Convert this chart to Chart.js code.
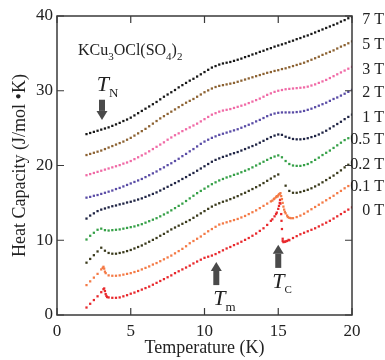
<!DOCTYPE html>
<html>
<head>
<meta charset="utf-8">
<script src="https://cdn.jsdelivr.net/npm/chart.js@4.4.1/dist/chart.umd.min.js"></script>
<style>
  html, body { margin: 0; padding: 0; background: #fff; }
  #wrap { width: 385px; height: 360px; position: relative; }
</style>
</head>
<body>
<div id="wrap"><canvas id="grafico"></canvas></div>
<script>
// temperatura (K), grade comum
const temps = [
  2, 2.25, 2.5, 2.75, 3, 3.25, 3.5, 3.75, 4, 4.25, 4.5, 4.75,
  5, 5.25, 5.5, 5.75, 6, 6.25, 6.5, 6.75, 7, 7.25, 7.5, 7.75,
  8, 8.25, 8.5, 8.75, 9, 9.25, 9.5, 9.75, 10, 10.25, 10.5, 10.75,
  11, 11.25, 11.5, 11.75, 12, 12.25, 12.5, 12.75, 13, 13.25, 13.5, 13.75,
  14, 14.25, 14.5, 14.75, 15, 15.25, 15.5, 15.75, 16, 16.25, 16.5, 16.75,
  17, 17.25, 17.5, 17.75, 18, 18.25, 18.5, 18.75, 19, 19.25, 19.5, 19.75, 20
];

const c7T = [
  24.2, 24.35, 24.5, 24.65, 24.8, 24.95, 25.1, 25.3, 25.5, 25.7, 25.95, 26.15,
  26.4, 26.7, 27.0, 27.3, 27.6, 27.9, 28.2, 28.5, 28.85, 29.2, 29.5, 29.8,
  30.1, 30.45, 30.75, 31.05, 31.35, 31.6, 31.9, 32.2, 32.5, 32.8, 33.1, 33.3,
  33.5, 33.65, 33.75, 33.85, 34.0, 34.15, 34.3, 34.5, 34.65, 34.85, 35.0, 35.2,
  35.35, 35.55, 35.7, 35.9, 36.05, 36.2, 36.35, 36.55, 36.7, 36.9, 37.05, 37.25,
  37.4, 37.6, 37.8, 38.0, 38.2, 38.4, 38.6, 38.8, 39.0, 39.25, 39.45, 39.7, 39.9
];
const c5T = [
  21.4, 21.55, 21.7, 21.85, 22.0, 22.2, 22.4, 22.6, 22.8, 23.0, 23.2, 23.45,
  23.7, 24.0, 24.3, 24.6, 24.9, 25.25, 25.6, 25.95, 26.3, 26.6, 26.9, 27.2,
  27.5, 27.8, 28.1, 28.4, 28.65, 28.9, 29.2, 29.5, 29.8, 30.05, 30.3, 30.5,
  30.65, 30.75, 30.85, 30.95, 31.05, 31.2, 31.35, 31.5, 31.65, 31.8, 31.95, 32.1,
  32.25, 32.4, 32.5, 32.65, 32.75, 32.9, 33.0, 33.15, 33.3, 33.45, 33.6, 33.75,
  33.95, 34.15, 34.35, 34.55, 34.8, 35.0, 35.2, 35.4, 35.65, 35.9, 36.1, 36.35, 36.6
];
const c3T = [
  18.7, 18.85, 19.0, 19.15, 19.3, 19.45, 19.6, 19.75, 19.9, 20.05, 20.25, 20.4,
  20.6, 20.85, 21.1, 21.35, 21.6, 21.9, 22.2, 22.5, 22.8, 23.1, 23.45, 23.75,
  24.05, 24.3, 24.6, 24.85, 25.1, 25.35, 25.6, 25.9, 26.2, 26.5, 26.8, 27.0,
  27.2, 27.35, 27.45, 27.55, 27.7, 27.85, 28.0, 28.15, 28.35, 28.55, 28.75, 28.95,
  29.2, 29.45, 29.65, 29.85, 30.0, 30.1, 30.2, 30.25, 30.3, 30.35, 30.4, 30.45,
  30.55, 30.7, 30.85, 31.05, 31.25, 31.45, 31.7, 31.95, 32.2, 32.45, 32.7, 32.95, 33.2
];
const c2T = [
  15.7, 15.8, 15.95, 16.05, 16.2, 16.35, 16.5, 16.65, 16.85, 17.0, 17.2, 17.4,
  17.6, 17.8, 18.0, 18.2, 18.45, 18.7, 18.95, 19.2, 19.5, 19.75, 20.05, 20.3,
  20.6, 20.9, 21.25, 21.55, 21.9, 22.2, 22.55, 22.9, 23.2, 23.45, 23.7, 23.9,
  24.1, 24.25, 24.4, 24.55, 24.7, 24.85, 25.05, 25.25, 25.45, 25.65, 25.9, 26.1,
  26.35, 26.6, 26.8, 26.95, 27.05, 27.1, 27.1, 27.1, 27.1, 27.15, 27.2, 27.3,
  27.45, 27.6, 27.8, 28.0, 28.2, 28.4, 28.65, 28.9, 29.1, 29.35, 29.6, 29.85, 30.1
];
const c1T = [
  12.9, 13.3, 13.6, 13.9, 14.1, 14.25, 14.4, 14.55, 14.65, 14.8, 14.9, 15.05,
  15.15, 15.3, 15.45, 15.6, 15.8, 16.0, 16.2, 16.4, 16.65, 16.9, 17.15, 17.4,
  17.65, 17.9, 18.2, 18.45, 18.75, 19.0, 19.3, 19.6, 19.9, 20.2, 20.5, 20.75,
  20.95, 21.15, 21.3, 21.5, 21.65, 21.8, 22.0, 22.2, 22.4, 22.6, 22.8, 23.05,
  23.3, 23.55, 23.8, 24.0, 24.15, 24.1, 23.85, 23.7, 23.55, 23.5, 23.5, 23.55,
  23.65, 23.8, 23.95, 24.15, 24.4, 24.65, 24.95, 25.25, 25.55, 25.85, 26.2, 26.5, 26.8
];
const c05T = [
  10.1, 10.6, 11.0, 11.4, 11.55, 11.35, 11.3, 11.35, 11.4, 11.45, 11.55, 11.65,
  11.75, 11.85, 12.0, 12.15, 12.35, 12.55, 12.75, 12.95, 13.2, 13.45, 13.7, 14.0,
  14.3, 14.6, 14.9, 15.25, 15.6, 15.95, 16.3, 16.6, 16.9, 17.2, 17.5, 17.75,
  18.0, 18.2, 18.4, 18.55, 18.75, 18.9, 19.1, 19.3, 19.5, 19.75, 20.0, 20.25,
  20.5, 20.75, 21.0, 21.2, 21.35, 21.1, 20.6, 20.2, 20.0, 19.95, 19.95, 20.05,
  20.2, 20.45, 20.75, 21.05, 21.4, 21.7, 22.0, 22.35, 22.7, 23.05, 23.4, 23.65, 23.85
];
const c02T = [
  7.0, 7.5, 8.0, 8.5, 9.0, 8.6, 8.3, 8.2, 8.2, 8.3, 8.4, 8.55,
  8.7, 8.9, 9.1, 9.3, 9.55, 9.8, 10.05, 10.3, 10.6, 10.85, 11.15, 11.45,
  11.7, 11.95, 12.2, 12.45, 12.7, 13.0, 13.3, 13.6, 13.9, 14.2, 14.5, 14.75,
  14.95, 15.15, 15.3, 15.5, 15.7, 15.9, 16.15, 16.35, 16.6, 16.85, 17.1, 17.35,
  17.65, 17.95, 18.25, 18.55, 18.8, null, 17.3, 16.6, 16.35, 16.35, 16.45, 16.6,
  16.75, 16.95, 17.2, 17.45, 17.75, 18.05, 18.35, 18.65, 19.0, 19.35, 19.75, 20.1, 20.5
];
const c01T = [
  4.0, 4.5, 5.0, 5.5, 6.1, 5.8, 5.3, 5.25, 5.25, 5.3, 5.4, 5.5,
  5.6, 5.75, 5.9, 6.1, 6.3, 6.5, 6.75, 6.95, 7.2, 7.45, 7.7, 7.95,
  8.25, 8.55, 8.85, 9.2, 9.6, 9.9, 10.2, 10.5, 10.85, 11.2, 11.5, 11.8,
  12.1, 12.25, 12.4, 12.55, 12.7, 12.85, 13.05, 13.25, 13.5, 13.75, 14.0, 14.3,
  14.6, 14.9, 15.2, 15.6, 16.0, 15.5, 13.6, 13.0, 12.95, 13.1, 13.3, 13.55,
  13.85, 14.15, 14.45, 14.75, 15.05, 15.35, 15.65, 15.95, 16.3, 16.6, 16.95, 17.25, 17.6
];
const c0T = [
  1.0, 1.5, 2.0, 2.5, 3.05, 3.2, 2.35, 2.3, 2.3, 2.35, 2.5, 2.65,
  2.85, 3.0, 3.2, 3.4, 3.6, 3.8, 4.05, 4.3, 4.55, 4.8, 5.05, 5.3,
  5.6, 5.85, 6.1, 6.35, 6.6, 6.9, 7.15, 7.4, 7.65, 7.8, 7.95, 8.15,
  8.4, 8.65, 8.9, 9.1, 9.35, 9.55, 9.8, 10.05, 10.3, 10.6, 10.9, 11.25,
  11.6, 12.05, 12.6, 13.2, 14.2, 11.5, 9.85, 10.0, 10.3, 10.55, 10.8, 11.0,
  11.2, 11.4, 11.6, 11.85, 12.1, 12.35, 12.6, 12.9, 13.2, 13.5, 13.8, 14.1, 14.4
];

// pontos extras perto dos picos (TN e Tc)
const pico01T = [3.1, 3.15, 3.2, 3.3, 14.6, 14.7, 14.85, 14.9, 14.95, 15.05, 15.1, 15.15, 15.2, 15.3, 15.35, 15.4, 15.45, 15.6, 15.65, 15.85];
const pico01C = [6.3, 6.45, 6.2, 5.6, 15.3, 15.5, 15.75, 15.9, 15.85, 16.15, 16.2, 16.3, 15.9, 15.0, 14.5, 14.1, 13.8, 13.3, 13.1, 12.95];
const pico0T = [3.15, 3.2, 3.3, 3.35, 3.4, 14.6, 14.85, 14.9, 15.05, 15.1, 15.12, 15.15, 15.2, 15.22, 15.3, 15.3, 15.35, 15.45, 15.6, 15.7];
const pico0C = [3.45, 3.55, 2.8, 2.55, 2.4, 12.8, 13.5, 13.7, 14.6, 15.0, 15.4, 14.9, 13.5, 12.6, 10.2, 9.9, 9.75, 9.8, 9.9, 10.05];

const campos = ['7 T', '5 T', '3 T', '2 T', '1 T', '0.5 T', '0.2 T', '0.1 T', '0 T'];
const xTicks = [0, 5, 10, 15, 20];
const yTicks = [0, 10, 20, 30, 40];

const cores = ['#161616', '#8c6232', '#f06aa6', '#5a4ca6', '#1f2444', '#35a047', '#3a3a1c', '#f47a46', '#e8282c'];

function pontos(ts, vs) {
    return ts.map((t, i) => ({ x: t, y: vs[i] }));
}

const series = [
    pontos(temps, c7T),
    pontos(temps, c5T),
    pontos(temps, c3T),
    pontos(temps, c2T),
    pontos(temps, c1T),
    pontos(temps, c05T),
    pontos(temps, c02T),
    pontos(temps, c01T).concat(pontos(pico01T, pico01C)),
    pontos(temps, c0T).concat(pontos(pico0T, pico0C))
];
const finais = [c7T, c5T, c3T, c2T, c1T, c05T, c02T, c01T, c0T].map(a => a[a.length - 1]);

const serif = '"Liberation Serif", "DejaVu Serif", serif';

// desenha texto com partes normais / subscritas / italicas
function texto(ctx, x, y, partes) {
    let cx = x;
    partes.forEach(([t, tipo, tam]) => {
        ctx.font = (tipo === 'it' ? 'italic ' : '') + tam + 'px ' + serif;
        const dy = tipo === 'sub' ? tam * 0.45 : 0;
        ctx.fillText(t, cx, y + dy);
        cx += ctx.measureText(t).width;
    });
}

function seta(ctx, x, yBase, yPonta) {
    const dir = yPonta < yBase ? -1 : 1;
    const cabeca = 9 * dir;
    ctx.beginPath();
    ctx.rect(x - 3, Math.min(yBase, yPonta - cabeca), 6, Math.abs(yBase - (yPonta - cabeca)));
    ctx.fill();
    ctx.beginPath();
    ctx.moveTo(x - 5.5, yPonta - cabeca);
    ctx.lineTo(x + 5.5, yPonta - cabeca);
    ctx.lineTo(x, yPonta);
    ctx.closePath();
    ctx.fill();
}

const decoracao = {
    id: 'decoracao',
    afterDraw(chart) {
        const { ctx, chartArea: a, scales: { x, y } } = chart;
        ctx.save();
        ctx.strokeStyle = '#3a3a3a';
        ctx.lineWidth = 1.5;
        ctx.strokeRect(a.left, a.top, a.right - a.left, a.bottom - a.top);
        ctx.lineWidth = 1.2;
        ctx.beginPath();
        xTicks.forEach(v => {
            const px = x.getPixelForValue(v);
            ctx.moveTo(px, a.bottom); ctx.lineTo(px, a.bottom - 7);
            ctx.moveTo(px, a.top); ctx.lineTo(px, a.top + 7);
        });
        yTicks.forEach(v => {
            const py = y.getPixelForValue(v);
            ctx.moveTo(a.left, py); ctx.lineTo(a.left + 7, py);
            ctx.moveTo(a.right, py); ctx.lineTo(a.right - 7, py);
        });
        ctx.stroke();

        // rotulos de campo a direita
        ctx.fillStyle = '#222';
        ctx.font = '16px ' + serif;
        ctx.textAlign = 'right';
        ctx.textBaseline = 'middle';
        campos.forEach((c, i) => {
            ctx.fillText(c, chart.width - 1, y.getPixelForValue(finais[i]) + 3);
        });

        ctx.textAlign = 'left';
        ctx.textBaseline = 'alphabetic';
        texto(ctx, x.getPixelForValue(1.42), y.getPixelForValue(34.8), [
            ['KCu', 'n', 16], ['3', 'sub', 11], ['OCl(SO', 'n', 16], ['4', 'sub', 11], [')', 'n', 16], ['2', 'sub', 11]
        ]);
        texto(ctx, x.getPixelForValue(2.7), y.getPixelForValue(30.0), [['T', 'it', 22], ['N', 'sub', 13]]);
        texto(ctx, x.getPixelForValue(10.6), y.getPixelForValue(1.3), [['T', 'it', 22], ['m', 'sub', 13]]);
        texto(ctx, x.getPixelForValue(14.6), y.getPixelForValue(3.6), [['T', 'it', 22], ['C', 'sub', 11]]);

        ctx.fillStyle = '#4a4a4a';
        seta(ctx, x.getPixelForValue(3.05), y.getPixelForValue(28.8), y.getPixelForValue(26.1));
        seta(ctx, x.getPixelForValue(10.8), y.getPixelForValue(4.0), y.getPixelForValue(7.1));
        seta(ctx, x.getPixelForValue(15.0), y.getPixelForValue(6.3), y.getPixelForValue(9.4));
        ctx.restore();
    }
};

const ctx = document.getElementById('grafico').getContext('2d');
new Chart(ctx, {
    type: 'scatter',
    data: {
        datasets: series.map((d, i) => ({
            label: campos[i],
            data: d,
            backgroundColor: cores[i],
            borderWidth: 0,
            pointStyle: 'rect',
            pointRadius: 1.6,
            showLine: false
        }))
    },
    options: {
        responsive: true,
        maintainAspectRatio: false,
        animation: false,
        layout: { padding: { top: 16, right: 33, left: 0, bottom: 0 } },
        plugins: {
            legend: { display: false },
            tooltip: { enabled: false }
        },
        scales: {
            x: {
                type: 'linear',
                min: 0,
                max: 20,
                afterFit: s => { s.height = 45; },
                grid: { display: false, drawTicks: false },
                border: { display: false },
                ticks: {
                    stepSize: 5,
                    padding: 6,
                    color: '#222',
                    font: { family: serif, size: 17 }
                },
                title: {
                    display: true,
                    text: 'Temperature (K)',
                    color: '#222',
                    padding: { top: 0, bottom: 1 },
                    font: { family: serif, size: 18 }
                }
            },
            y: {
                min: 0,
                max: 40,
                afterFit: s => { s.width = 57; },
                grid: { display: false, drawTicks: false },
                border: { display: false },
                ticks: {
                    stepSize: 10,
                    padding: 4,
                    color: '#222',
                    font: { family: serif, size: 17 }
                },
                title: {
                    display: true,
                    text: 'Heat Capacity (J/mol •K)',
                    color: '#222',
                    padding: { top: 9, bottom: 0 },
                    font: { family: serif, size: 18 }
                }
            }
        }
    },
    plugins: [decoracao]
});
</script>
</body>
</html>
